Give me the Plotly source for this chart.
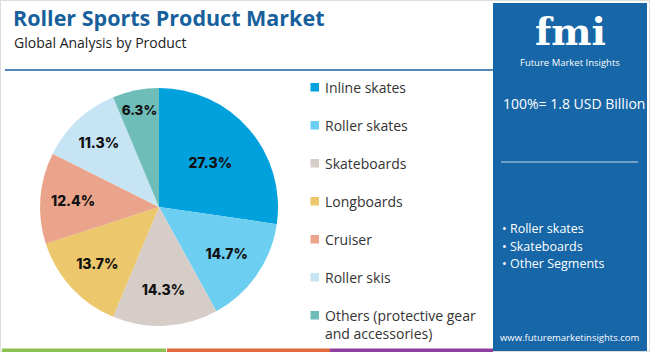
import plotly.graph_objects as go

categories = ["Inline skates", "Roller skates", "Skateboards", "Longboards",
              "Cruiser", "Roller skis", "Others (protective gear<br>and accessories)"]
shares = [27.3, 14.7, 14.3, 13.7, 12.4, 11.3, 6.3]
colors = ["#00a1dc", "#6ccff1", "#d6cdc9", "#ecc76b", "#eaa48b", "#c6e4f4", "#6fbdb8"]
segments = ["Roller skates", "Skateboards", "Other Segments"]

W, H = 650, 352

def px(x):
    return x / W

def py(y):
    return 1 - y / H

fig = go.Figure()
fig.add_trace(go.Pie(
    labels=categories, values=shares, sort=False, direction="clockwise",
    rotation=0, marker=dict(colors=colors, line=dict(width=0)),
    texttemplate="%{value:.1f}%", textposition="inside",
    insidetextorientation="horizontal",
    textfont=dict(family="Inter", size=14, color="#111", weight=800),
    domain=dict(x=[px(40), px(278)], y=[py(326), py(88)]),
    showlegend=False, hoverinfo="label+value",
))

shapes = []
# outer border
shapes.append(dict(type="rect", xref="paper", yref="paper", x0=0, x1=1, y0=0, y1=1,
                   line=dict(color="#dddddd", width=2), fillcolor="rgba(0,0,0,0)"))
# blue panel
shapes.append(dict(type="rect", xref="paper", yref="paper", x0=px(493), x1=px(647),
                   y0=0, y1=py(3), line=dict(width=0), fillcolor="#1666a8", layer="below"))
# title underline
shapes.append(dict(type="line", xref="paper", yref="paper", x0=px(5), x1=px(493),
                   y0=py(70), y1=py(70), line=dict(color="#4f88b9", width=2)))
# panel divider
shapes.append(dict(type="line", xref="paper", yref="paper", x0=px(501), x1=px(638),
                   y0=py(162), y1=py(162), line=dict(color="#8fb3d6", width=1.5)))
# bottom strip
for c, a, b in [("#8cc152", 2, 166), ("#e2673a", 167, 330), ("#8e3fa0", 330, 493)]:
    shapes.append(dict(type="rect", xref="paper", yref="paper", x0=px(a), x1=px(b),
                       y0=0, y1=py(348.5), line=dict(width=0), fillcolor=c))

ann = []
ann.append(dict(text="<b>Roller Sports Product Market</b>", x=px(11), y=py(17),
                xanchor="left", yanchor="middle", showarrow=False,
                font=dict(family="Open Sans", size=21.5, color="#17609c")))
ann.append(dict(text="Global Analysis by Product", x=px(12), y=py(42),
                xanchor="left", yanchor="middle", showarrow=False,
                font=dict(family="Open Sans", size=14, color="#222")))

# legend
ly = [87, 125, 163, 201, 239, 277, 315]
for cat, col, y in zip(categories, colors, ly):
    shapes.append(dict(type="rect", xref="paper", yref="paper", x0=px(310.5), x1=px(319),
                       y0=py(y + 4.5), y1=py(y - 4), line=dict(width=0), fillcolor=col))
    lines = cat.split("<br>")
    for i, t in enumerate(lines):
        ann.append(dict(text=t, x=px(323), y=py(y + i * 18), xanchor="left", yanchor="middle",
                        showarrow=False, font=dict(family="Open Sans", size=14, color="#333")))

# panel text
ann.append(dict(text="<b>fmi</b>", x=px(570), y=py(31), xanchor="center", yanchor="middle",
                showarrow=False, font=dict(family="DejaVu Serif", size=38, color="white")))
ann.append(dict(text="Future Market Insights", x=px(570), y=py(62), xanchor="center",
                yanchor="middle", showarrow=False,
                font=dict(family="Open Sans", size=9.5, color="white")))
ann.append(dict(text="100%= 1.8 USD Billion", x=px(501), y=py(103), xanchor="left",
                yanchor="middle", showarrow=False,
                font=dict(family="Open Sans", size=14, color="white")))
for i, s in enumerate(segments):
    ann.append(dict(text="• " + s, x=px(500), y=py(229 + i * 17), xanchor="left",
                    yanchor="middle", showarrow=False,
                    font=dict(family="Open Sans", size=12.5, color="white")))
ann.append(dict(text="www.futuremarketinsights.com", x=px(570), y=py(337), xanchor="center",
                yanchor="middle", showarrow=False,
                font=dict(family="Open Sans", size=9.5, color="white")))

fig.update_layout(width=W, height=H, margin=dict(l=0, r=0, t=0, b=0),
                  paper_bgcolor="white", plot_bgcolor="white",
                  shapes=shapes, annotations=ann)
fig.write_html("out.html")
